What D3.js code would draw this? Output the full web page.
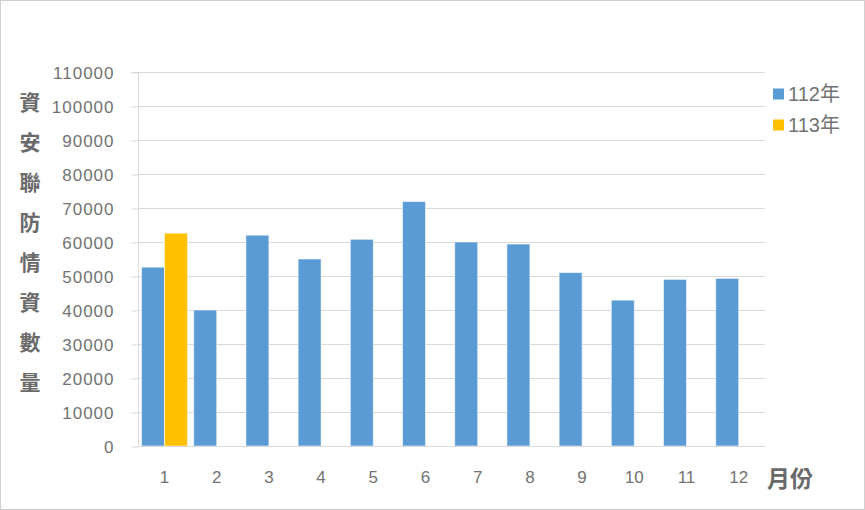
<!DOCTYPE html>
<html>
<head>
<meta charset="utf-8">
<script src="https://cdn.jsdelivr.net/npm/d3@7/dist/d3.min.js"></script>
<style>
  html, body { margin: 0; padding: 0; background: #fff; }
  svg { display: block; }
</style>
</head>
<body>
<svg id="chart" width="865" height="510"></svg>
<script>
const months = ["1","2","3","4","5","6","7","8","9","10","11","12"];
const seriesNames = ["112年", "113年"];
const values112 = [52600, 40000, 62000, 55000, 60800, 71900, 60000, 59400, 51000, 42900, 49000, 49300];
const values113 = [62600, null, null, null, null, null, null, null, null, null, null, null];
const yTicks = [0, 10000, 20000, 30000, 40000, 50000, 60000, 70000, 80000, 90000, 100000, 110000];
const colors = ["#5B9BD5", "#FFC000"];
const yTitle = "資安聯防情資數量";
const xTitle = "月份";

(function () {
const svg = d3.select("#chart");
const W = 865, H = 510;
const pLeft = 138.4, pRight = 764.8, pTop = 72, pBottom = 446;

svg.append("rect").attr("x", 0.5).attr("y", 0.5).attr("width", W - 1).attr("height", H - 1)
  .attr("fill", "#fff").attr("stroke", "#d0d0d0");

const x = d3.scaleBand().domain(months).range([pLeft, pRight]).paddingInner(0.12).paddingOuter(0.06);
const xs = d3.scaleBand().domain(seriesNames).range([0, x.bandwidth()]);
const y = d3.scaleLinear().domain([0, 110000]).range([pBottom, pTop]);

// gridlines
svg.append("g").selectAll("line").data(yTicks.filter(d => d > 0)).join("line")
  .attr("x1", pLeft).attr("x2", pRight)
  .attr("y1", d => Math.round(y(d)) + 0.5).attr("y2", d => Math.round(y(d)) + 0.5)
  .attr("stroke", "#d9d9d9").attr("stroke-width", 1);

// y axis
const yAxis = d3.axisLeft(y).tickValues(yTicks).tickSize(7).tickPadding(17).tickFormat(d3.format("d"));
const gy = svg.append("g").attr("transform", `translate(${Math.round(pLeft) + 0.5},0.5)`).call(yAxis);
gy.select(".domain").attr("stroke", "#d9d9d9").attr("d", `M-7,${pTop}H0V${pBottom}`);
gy.selectAll(".tick line").attr("stroke", "#d9d9d9");
gy.selectAll(".tick text")
  .attr("fill", "#727272")
  .style("font-family", "'Liberation Sans', Arial, sans-serif")
  .style("font-size", "17px")
  .style("letter-spacing", "1px")
  .attr("dy", "0.36em");

// bars
const data = months.map((m, i) => ({ month: m, vals: [values112[i], values113[i]] }));
const groups = svg.append("g").selectAll("g").data(data).join("g")
  .attr("transform", d => `translate(${x(d.month)},0)`);
groups.selectAll("rect")
  .data(d => d.vals.map((v, j) => ({ name: seriesNames[j], v, j })).filter(e => e.v != null))
  .join("rect")
  .attr("x", e => xs(e.name))
  .attr("width", xs.bandwidth())
  .attr("y", e => y(e.v))
  .attr("height", e => y(0) - y(e.v))
  .attr("fill", e => colors[e.j])
  .attr("stroke", "#ffffff").attr("stroke-opacity", 0.55).attr("stroke-width", 1);

// x axis
const xAxis = d3.axisBottom(x).tickSize(0).tickPadding(24);
const gx = svg.append("g").attr("transform", `translate(0,${Math.round(pBottom) + 0.5})`).call(xAxis);
gx.select(".domain").attr("stroke", "#d9d9d9").attr("d", `M${pLeft},0H${pRight}`);
gx.selectAll(".tick text")
  .attr("fill", "#727272")
  .style("font-family", "'Liberation Sans', Arial, sans-serif")
  .style("font-size", "17px")
  .attr("dy", "0.36em")
  .attr("y", 30);

// y title (vertical characters)
svg.append("g").selectAll("text").data(Array.from(yTitle)).join("text")
  .attr("x", 30).attr("y", (d, i) => 102 + i * 40)
  .attr("text-anchor", "middle").attr("dy", "0.36em")
  .attr("fill", "#6a6a6a")
  .style("font-family", "'Noto Sans CJK TC', sans-serif")
  .style("font-weight", "bold")
  .style("font-size", "21px")
  .text(d => d);

// x title
svg.append("text").attr("x", 767).attr("y", 479).attr("dy", "0.36em")
  .attr("fill", "#6a6a6a")
  .style("font-family", "'Noto Sans CJK TC', sans-serif")
  .style("font-weight", "bold")
  .style("font-size", "23px")
  .text(xTitle);

// legend
const lg = svg.append("g").selectAll("g").data(seriesNames).join("g")
  .attr("transform", (d, i) => `translate(773,${94 + i * 31})`);
lg.append("rect").attr("x", 0).attr("y", -5.5).attr("width", 11).attr("height", 11)
  .attr("fill", (d, i) => colors[i]);
lg.append("text").attr("x", 15).attr("y", 0).attr("dy", "0.36em")
  .attr("fill", "#727272")
  .style("font-family", "'Liberation Sans', 'Noto Sans CJK TC', sans-serif")
  .style("font-size", "20px")
  .text(d => d);
})();
</script>
</body>
</html>
